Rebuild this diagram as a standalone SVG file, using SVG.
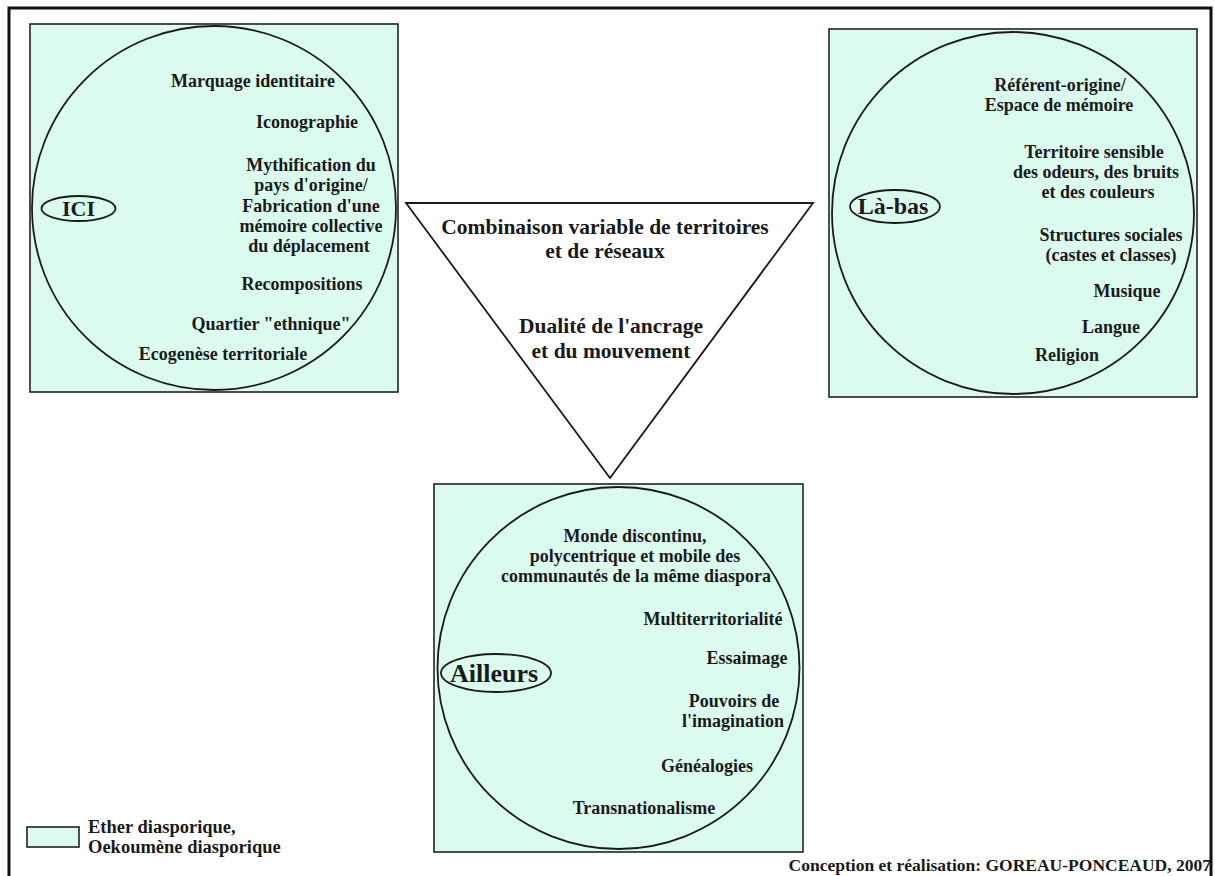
<svg xmlns="http://www.w3.org/2000/svg" width="1215" height="876" viewBox="0 0 1215 876">
<style>
.box{fill:#DCFBEF;stroke:#222;stroke-width:1.6}
.circ{fill:none;stroke:#1a1a1a;stroke-width:1.8}
.ell{fill:none;stroke:#1a1a1a;stroke-width:1.8}
text{font-family:"Liberation Serif","Times New Roman",serif;font-weight:bold;fill:#1a1a1a}
.it{font-size:18px;text-anchor:middle}
.tri{font-size:21.5px;text-anchor:middle}
.lg{font-size:18.5px}
</style>
<rect x="0" y="0" width="1215" height="876" fill="#fff"/>
<rect x="9" y="8" width="1202" height="900" fill="none" stroke="#111" stroke-width="3"/>

<g id="ici">
<rect class="box" x="30" y="24" width="368" height="368"/>
<circle class="circ" cx="214" cy="208" r="182"/>
<ellipse class="ell" cx="78.5" cy="208.5" rx="37" ry="12.5"/>
<text x="78.5" y="216" style="font-size:22px;text-anchor:middle">ICI</text>
<text class="it" x="253" y="87">Marquage identitaire</text>
<text class="it" x="307" y="128">Iconographie</text>
<text class="it" x="311" y="171">Mythification du</text>
<text class="it" x="311" y="191">pays d'origine/</text>
<text class="it" x="311" y="212">Fabrication d'une</text>
<text class="it" x="311" y="232">mémoire collective</text>
<text class="it" x="309" y="252">du déplacement</text>
<text class="it" x="302" y="290">Recompositions</text>
<text class="it" x="271" y="330">Quartier "ethnique"</text>
<text class="it" x="223" y="360">Ecogenèse territoriale</text>
</g>

<g id="labas">
<rect class="box" x="829" y="29" width="368" height="368"/>
<circle class="circ" cx="1013" cy="213" r="181"/>
<ellipse class="ell" cx="895" cy="206.5" rx="45" ry="16.5"/>
<text x="893" y="214" style="font-size:24px;text-anchor:middle">Là-bas</text>
<text class="it" x="1060" y="91">Référent-origine/</text>
<text class="it" x="1059" y="111">Espace de mémoire</text>
<text class="it" x="1094" y="158">Territoire sensible</text>
<text class="it" x="1096" y="178">des odeurs, des bruits</text>
<text class="it" x="1098" y="198">et des couleurs</text>
<text class="it" x="1111" y="241">Structures sociales</text>
<text class="it" x="1111" y="261">(castes et classes)</text>
<text class="it" x="1127" y="297">Musique</text>
<text class="it" x="1111" y="333">Langue</text>
<text class="it" x="1067" y="361">Religion</text>
</g>

<g id="triangle">
<polygon points="406,203 813,203 610,478" fill="#fff" stroke="#1a1a1a" stroke-width="1.8"/>
<text class="tri" x="605" y="234">Combinaison variable de territoires</text>
<text class="tri" x="605" y="258">et de réseaux</text>
<text class="tri" x="611" y="333">Dualité de l'ancrage</text>
<text class="tri" x="611" y="358">et du mouvement</text>
</g>

<g id="ailleurs">
<rect class="box" x="434" y="484" width="369" height="368"/>
<circle class="circ" cx="618.5" cy="668" r="181"/>
<ellipse class="ell" cx="496" cy="673" rx="55" ry="19"/>
<text x="494" y="682" style="font-size:26px;text-anchor:middle">Ailleurs</text>
<text class="it" x="635" y="542">Monde discontinu,</text>
<text class="it" x="635" y="562">polycentrique et mobile des</text>
<text class="it" x="636" y="582">communautés de la même diaspora</text>
<text class="it" x="713" y="625">Multiterritorialité</text>
<text class="it" x="747" y="664">Essaimage</text>
<text class="it" x="734" y="707">Pouvoirs de</text>
<text class="it" x="733" y="727">l'imagination</text>
<text class="it" x="707" y="772">Généalogies</text>
<text class="it" x="644" y="814">Transnationalisme</text>
</g>

<g id="legend">
<rect class="box" x="27" y="827" width="52" height="20"/>
<text class="lg" x="88" y="833">Ether diasporique,</text>
<text class="lg" x="88" y="853">Oekoumène diasporique</text>
</g>

<g id="credit">
<text x="1211" y="871" style="font-size:17.5px;text-anchor:end">Conception et réalisation: GOREAU-PONCEAUD, 2007</text>
</g>

<g id="connectors"></g>
</svg>
